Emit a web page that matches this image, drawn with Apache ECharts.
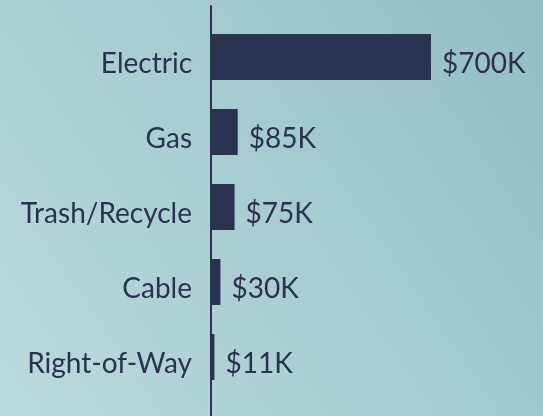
<!DOCTYPE html>
<html>
<head>
<meta charset="utf-8">
<script src="https://cdn.jsdelivr.net/npm/echarts@6/dist/echarts.min.js"></script>
<style>
html,body{margin:0;padding:0;width:543px;height:416px;overflow:hidden;}
#chart{width:543px;height:416px;}
</style>
</head>
<body>
<div id="chart"></div>
<script>
var categories = ['Electric', 'Gas', 'Trash/Recycle', 'Cable', 'Right-of-Way'];
var values = [700, 85, 75, 30, 11];
var valueLabels = ['$700K', '$85K', '$75K', '$30K', '$11K'];

var ink = '#29334f';
var font = 'Lato';

var chart = echarts.init(document.getElementById('chart'));
chart.setOption({
  animation: false,
  backgroundColor: {
    type: 'linear', x: 0, y: 1, x2: 1, y2: 0.1,
    colorStops: [
      { offset: 0, color: '#bddadc' },
      { offset: 0.5, color: '#a8cdd0' },
      { offset: 1, color: '#93c0c3' }
    ]
  },
  grid: [
    { left: 211, top: 19.5, height: 375, width: 220, containLabel: false },
    { left: 211, top: 6, bottom: 0, width: 220, containLabel: false }
  ],
  xAxis: [
    { type: 'value', gridIndex: 0, min: 0, max: 700, show: false },
    { type: 'value', gridIndex: 1, min: 0, max: 700, show: false }
  ],
  yAxis: [
    {
      type: 'category', gridIndex: 0, inverse: true, data: categories,
      axisLine: { show: false },
      axisTick: { show: false },
      axisLabel: {
        color: ink, fontFamily: font, fontSize: 28, margin: 19,
        verticalAlign: 'top', lineHeight: 13
      }
    },
    {
      type: 'category', gridIndex: 1, data: [],
      axisLine: { show: true, lineStyle: { color: ink, width: 2 } },
      axisTick: { show: false },
      axisLabel: { show: false }
    }
  ],
  series: [{
    type: 'bar',
    xAxisIndex: 0, yAxisIndex: 0,
    data: values,
    barWidth: 46,
    itemStyle: { color: ink },
    label: {
      show: true, position: 'right', distance: 11,
      color: ink, fontFamily: font, fontSize: 28,
      offset: [0, 6.5],
      formatter: function (p) { return valueLabels[p.dataIndex]; }
    }
  }]
});
</script>
</body>
</html>
